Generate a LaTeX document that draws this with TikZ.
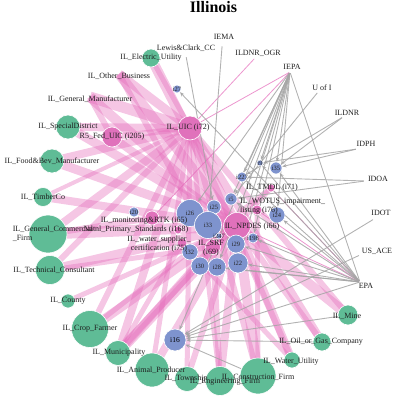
\documentclass[tikz,border=0pt]{standalone}
\usepackage{fontspec}
\setmainfont{Liberation Serif}
\usetikzlibrary{arrows.meta}
\definecolor{actgreen}{RGB}{95,188,150}
\definecolor{instblue}{RGB}{126,147,206}
\definecolor{rulepink}{RGB}{224,113,187}
\definecolor{bandpink}{RGB}{228,105,185}
\definecolor{linkgray}{RGB}{165,165,165}
\pgfdeclarelayer{links}
\pgfdeclarelayer{texts}
\pgfsetlayers{links,main,texts}
\tikzset{
  actor/.style={circle, fill=actgreen, draw=white, line width=0.6pt, inner sep=0pt, minimum size=#1},
  hidden/.style={circle, inner sep=0pt, minimum size=6pt},
  inst/.style={circle, fill=instblue, draw=white, line width=0.6pt, inner sep=0pt, minimum size=#1},
  rulenode/.style={circle, fill=rulepink, draw=white, line width=0.6pt, inner sep=0pt, minimum size=#1},
  agency/.style={circle, inner sep=0pt, minimum size=2pt},
  lab/.style={font=\fontsize{8}{8.8}\selectfont, inner sep=0pt, text=black!88},
  ilab/.style={font=\fontsize{6.5}{7}\selectfont, inner sep=0pt, text=black!85},
  band/.style={draw=bandpink, draw opacity=0.38, line cap=butt},
  thinpink/.style={draw=bandpink, draw opacity=0.7, line width=0.8pt},
  flow/.style={draw=linkgray, draw opacity=0.85, line width=0.9pt, -{Stealth[length=4.5pt,width=3.6pt]}},
  plainflow/.style={draw=linkgray, draw opacity=0.85, line width=0.9pt},
}
\begin{document}
\begin{tikzpicture}[x=1pt,y=-1pt]
\useasboundingbox (0,0) rectangle (410,418);

% ---- actor types (green) ----
\node[actor=18pt] (gel) at (151,58) {};
\node[hidden] (gob) at (119,74) {};
\node[hidden] (ggm) at (90,97) {};
\node[actor=24pt] (gsd) at (68,127) {};
\node[actor=24pt] (gfb) at (52,161) {};
\node[actor=19pt] (gtim) at (43,197) {};
\node[actor=38pt] (gcom) at (48,234) {};
\node[actor=29pt] (gtec) at (50,270) {};
\node[actor=14pt] (gcou) at (68,301) {};
\node[actor=37pt] (gcro) at (90,329) {};
\node[actor=25pt] (gmun) at (118,353) {};
\node[actor=34pt] (gani) at (152,370) {};
\node[actor=25pt] (gtow) at (187,379) {};
\node[actor=29pt] (geng) at (220,381) {};
\node[actor=36pt] (gcon) at (258,376) {};
\node[actor=16pt] (gwat) at (292,360) {};
\node[actor=18pt] (goil) at (322,342) {};
\node[actor=20pt] (gmin) at (348,315) {};

% ---- rules (pink) ----
\node[rulenode=24pt] (uic) at (190,128) {};
\node[rulenode=20pt] (r5) at (112,137) {};
\node[rulenode=27pt] (npdes) at (237,226) {};
\node[rulenode=14pt] (rtk) at (152,218) {};
\node[rulenode=8pt] (pps) at (178,230) {};
\node[rulenode=10pt] (wsc) at (182,243) {};
\node[rulenode=8pt] (tmdl) at (271,188) {};
\node[rulenode=10pt] (wotus) at (257,210) {};
\node[rulenode=15pt] (srf) at (213,247) {};

% ---- instruments (blue) ----
\node[inst=8pt] (i27) at (177,89) {};
\node[inst=10pt] (i20) at (134,212) {};
\node[inst=27pt] (i26) at (190,213) {};
\node[inst=14pt] (i25) at (214,207) {};
\node[inst=27pt] (i33) at (208,225) {};
\node[inst=12pt] (i5) at (231,199) {};
\node[inst=10pt] (i227) at (242,177) {};
\node[inst=6pt] (i9) at (260,163) {};
\node[inst=12pt] (i35) at (276,168) {};
\node[inst=16pt] (i24) at (277,215) {};
\node[inst=10pt] (i198) at (253,238) {};
\node[inst=18pt] (i29) at (236,244) {};
\node[inst=20pt] (i22) at (238,263) {};
\node[inst=18pt] (i28) at (217,267) {};
\node[inst=18pt] (i30) at (200,266) {};
\node[inst=16pt] (i32) at (190,252) {};
\node[inst=6pt] (i247) at (219,236) {};
\node[inst=22pt] (i16) at (175,340) {};

% ---- agencies ----
\node[agency, fill=gray!40] (iema) at (222,47) {};
\node[agency] (lew) at (186,56) {};
\node[agency] (ogr) at (255,58) {};
\node[agency] (iepa) at (290,72) {};
\node[agency] (uofi) at (318,92) {};
\node[agency] (ildnr) at (343,117) {};
\node[agency] (idph) at (357,149) {};
\node[agency] (idoa) at (365,181) {};
\node[agency] (idot) at (374,219) {};
\node[agency] (usace) at (360,255) {};
\node[agency] (epa) at (360,282) {};

\begin{pgfonlayer}{links}
% actor-to-rule bands
\foreach \s/\t/\w in {
  gel/npdes/10, gel/uic/5,
  gob/uic/9, gob/npdes/10, gob/srf/6,
  ggm/uic/11, ggm/npdes/10, ggm/r5/6,
  gsd/uic/8, gsd/npdes/9,
  r5/uic/6, r5/npdes/8,
  gfb/uic/8, gfb/npdes/9,
  gtim/npdes/8, gtim/uic/4,
  gcom/npdes/11, gcom/uic/8, gcom/rtk/6,
  gtec/npdes/9, gtec/uic/6, gtec/srf/5,
  gcou/npdes/5,
  gcro/npdes/9, gcro/uic/6, gcro/tmdl/5,
  gmun/npdes/10, gmun/uic/8, gmun/srf/8, gmun/wsc/5, gmun/tmdl/5,
  gani/npdes/8, gani/uic/5,
  gtow/npdes/6, gtow/uic/5,
  geng/npdes/8, geng/srf/6, geng/uic/5,
  gcon/npdes/10, gcon/uic/6, gcon/wotus/5,
  gwat/npdes/8, gwat/uic/6, gwat/wsc/5,
  goil/uic/8, goil/npdes/6,
  gmin/npdes/10, gmin/uic/6}
  \draw[band, line width=\w pt] (\s.center) -- (\t.center);
% agency-to-rule links
\foreach \s/\t in {ogr/uic, iepa/uic, iepa/rtk, epa/npdes, epa/wotus, epa/tmdl}
  \draw[thinpink] (\s) -- (\t);
% agency-to-instrument links
\foreach \s/\t in {
  lew/i25, iema/i33,
  iepa/i227, iepa/i9, iepa/i35, iepa/i5, iepa/i24, iepa/i29, iepa/i22,
  iepa/i26, iepa/i16, iepa/i28, iepa/i198,
  uofi/i5, ildnr/i227, ildnr/i35, idph/i35, idph/i9, idoa/i5, idoa/i227,
  idot/i16, usace/i16,
  epa/i27, epa/i227, epa/i35, epa/i24, epa/i198, epa/i22, epa/i29,
  epa/i16, epa/i28, epa/i9, epa/i5, epa/i30,
  gmin/i16, gcon/i16, goil/i16}
  \draw[flow] (\s) -- (\t);
\draw[plainflow] (epa) -- (iepa);
\end{pgfonlayer}

\begin{pgfonlayer}{texts}
\node[font=\bfseries\fontsize{16}{16}\selectfont, inner sep=0pt, anchor=base] (title) at (213.5,12) {Illinois};
% actor labels
\node[lab] at (gel) {IL\_Electric\_Utility};
\node[lab] at (119,76) {IL\_Other\_Business};
\node[lab] at (90,99) {IL\_General\_Manufacturer};
\node[lab] at (gsd) {IL\_SpecialDistrict};
\node[lab] at (gfb) {IL\_Food\&Bev\_Manufacturer};
\node[lab] at (gtim) {IL\_TimberCo};
\node[lab, align=left] at (53,234) {IL\_General\_Commercial\\\_Firm};
\node[lab] at (54,270) {IL\_Technical\_Consultant};
\node[lab] at (gcou) {IL\_County};
\node[lab] at (gcro) {IL\_Crop\_Farmer};
\node[lab] at (119,353) {IL\_Municipality};
\node[lab] at (151,370) {IL\_Animal\_Producer};
\node[lab] at (186,379) {IL\_Township};
\node[lab] at (225,382) {IL\_Engineering\_Firm};
\node[lab] at (258,377) {IL\_Construction\_Firm};
\node[lab] at (291,362) {IL\_Water\_Utility};
\node[lab] at (321,342) {IL\_Oil\_or\_Gas\_Company};
\node[lab] at (347,316) {IL\_Mine};
% rule labels
\node[lab] at (188,128) {IL\_UIC (i72)};
\node[lab] at (r5) {R5\_Fed\_UIC (i205)};
\node[lab] at (252,227) {IL\_NPDES (i66)};
\node[lab] at (144,221) {IL\_monitoring\&RTK (i65)};
\node[lab] at (136,230) {Natnl\_Primary\_Standards (i168)};
\node[lab, align=center] at (159,244) {IL\_water\_supplier\_\\certification (i75)};
\node[lab] at (272,188) {IL\_TMDL (i71)};
\node[lab, align=left, anchor=west] at (240,206.5) {IL\_WOTUS\_impairment\_\\listing (i76)};
\node[lab, align=center] at (211,248) {IL\_SRF\\(i69)};
% instrument labels
\foreach \n in {i27,i20,i26,i25,i33,i5,i227,i9,i35,i24,i198,i29,i22,i28,i30,i32,i247}
  \node[ilab] at (\n) {\n};
\node[font=\fontsize{7.5}{8}\selectfont, inner sep=0pt] at (i16) {i16};
% agency labels
\node[lab] at (224,37) {IEMA};
\node[lab] at (186,48) {Lewis\&Clark\_CC};
\node[lab] at (258,53) {ILDNR\_OGR};
\node[lab] at (292,67) {IEPA};
\node[lab] at (322,88) {U of I};
\node[lab] at (347,113) {ILDNR};
\node[lab] at (366,144) {IDPH};
\node[lab] at (378,179) {IDOA};
\node[lab] at (381,213) {IDOT};
\node[lab] at (377,251) {US\_ACE};
\node[lab] at (366,286) {EPA};
\end{pgfonlayer}
\end{tikzpicture}
\end{document}
